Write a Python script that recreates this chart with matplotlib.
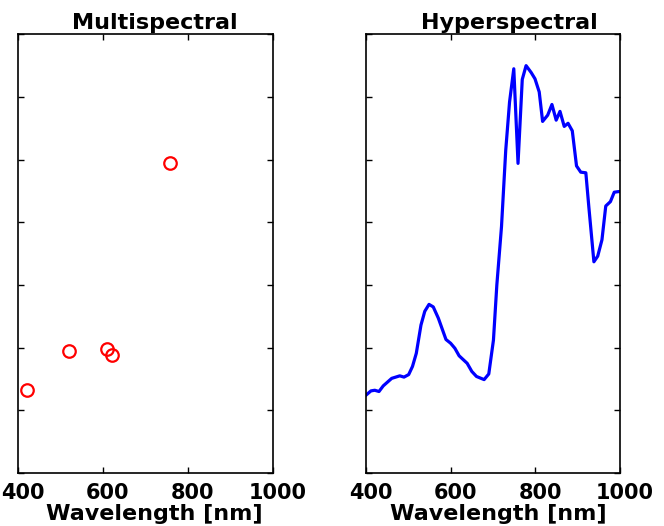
import numpy as np
import matplotlib
matplotlib.use('Agg')
import matplotlib.pyplot as plt
from matplotlib.transforms import ScaledTranslation

plt.rcParams['font.family'] = ['DejaVu Sans']
plt.rcParams['font.weight'] = 'bold'

# multispectral bands (red circles)
multi_wl = [421, 520, 609, 621, 758]
multi_val = [0.132, 0.195, 0.198, 0.188, 0.494]

# hyperspectral curve (blue line)
hyper_wl = [400, 412, 421, 431, 441, 461, 480, 490, 501, 510, 519, 530, 539, 549,
            559, 571, 589, 600, 610, 620, 639, 650, 661, 679, 690, 701, 709, 720,
            730, 739, 749, 759, 769, 778, 790, 799, 809, 817, 829, 839, 849, 858,
            868, 877, 887, 897, 907, 919, 926, 938, 947, 957, 966, 977, 986, 996, 1000]
hyper_val = [0.124, 0.131, 0.132, 0.130, 0.139, 0.151, 0.155, 0.153, 0.157, 0.170,
             0.191, 0.236, 0.258, 0.269, 0.265, 0.247, 0.213, 0.207, 0.199, 0.187,
             0.175, 0.162, 0.154, 0.149, 0.158, 0.212, 0.300, 0.393, 0.515, 0.592,
             0.645, 0.494, 0.628, 0.650, 0.639, 0.629, 0.608, 0.561, 0.571, 0.588,
             0.563, 0.577, 0.553, 0.558, 0.546, 0.490, 0.480, 0.479, 0.425, 0.337,
             0.346, 0.372, 0.426, 0.433, 0.448, 0.449, 0.449]

fig = plt.figure(figsize=(6.64, 5.26), dpi=100)
ax1 = fig.add_axes([0.027, 0.1008, 0.384, 0.834])
ax2 = fig.add_axes([0.551, 0.1008, 0.383, 0.834])

ax1.plot(multi_wl, multi_val, 'o', mfc='none', mec='#ff0000', ms=9, mew=1.6)
ax2.plot(hyper_wl, hyper_val, '-', color='#0000ff', lw=2.3)

# text in the original sits a few px right of centre
shift = ScaledTranslation(0.05, 0, fig.dpi_scale_trans)
for ax, title, tx, lx in [(ax1, 'Multispectral', 0.535, 0.533),
                          (ax2, 'Hyperspectral', 0.563, 0.52)]:
    ax.set_xlim(400, 1000)
    ax.set_ylim(0, 0.7)
    ax.set_xticks([400, 600, 800, 1000])
    ax.set_yticks(np.arange(0, 0.71, 0.1))
    ax.set_yticklabels([])
    ax.tick_params(direction='in', top=True, right=True, length=4, width=1,
                   labelsize=15, pad=7)
    for lbl in ax.get_xticklabels():
        lbl.set_fontweight('bold')
        lbl.set_transform(lbl.get_transform() + shift)
    ax.set_xlabel('Wavelength [nm]', fontsize=16, fontweight='bold', labelpad=1, x=lx)
    ax.set_title(title, fontsize=16, fontweight='bold', pad=4, x=tx)
    for s in ax.spines.values():
        s.set_linewidth(1.2)

fig.savefig('out.png', dpi=100)
